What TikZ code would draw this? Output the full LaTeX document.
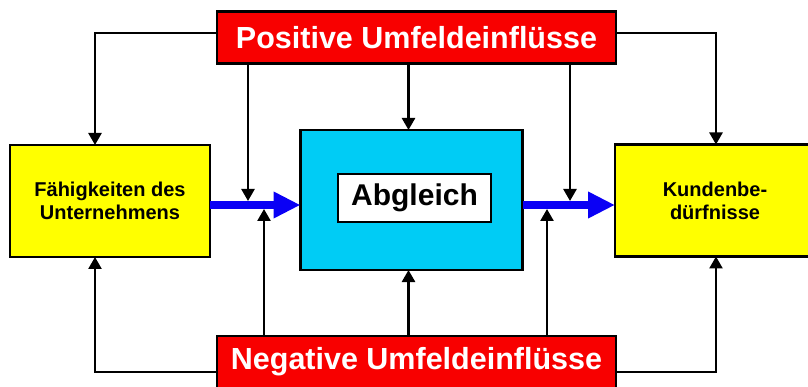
\documentclass[tikz,border=0pt]{standalone}
\usepackage{fontspec}
\setmainfont{Liberation Sans}
\usetikzlibrary{arrows.meta,calc}
\definecolor{boxred}{HTML}{F80000}
\definecolor{boxyellow}{HTML}{FFFF00}
\definecolor{boxcyan}{HTML}{00CCF5}
\definecolor{flowblue}{HTML}{0A00F5}
\tikzset{
  frame/.style={draw=black, line width=2.5pt, inner sep=0pt, outer sep=0pt},
  redbox/.style={frame, fill=boxred, text=white, font=\bfseries\fontsize{30.5}{36}\selectfont,
    minimum width=399pt, minimum height=52pt},
  sidebox/.style={frame, fill=boxyellow, align=center,
    font=\bfseries\fontsize{20}{23}\selectfont, minimum width=200pt, minimum height=112pt},
  corebox/.style={frame, fill=boxcyan, minimum width=222pt, minimum height=140pt},
  labelbox/.style={frame, fill=white, font=\bfseries\fontsize{30}{36}\selectfont,
    minimum width=153pt, minimum height=48pt},
  arr/.style={line width=2.5pt, -{Triangle[width=13pt,length=12pt]}},
  flow/.style={draw=flowblue, line width=8pt, -{Triangle[width=25pt,length=27pt]}},
}
\begin{document}
\begin{tikzpicture}[x=1pt,y=-1pt]
  \useasboundingbox (0,0) rectangle (808,387);
  \begin{scope}
  \clip (0,0) rectangle (808,387);

  % boxes
  \node[redbox] (pos) at (416.5,37.5) {Positive Umfeldeinflüsse};
  \node[redbox] (neg) at (416.5,362) {Negative Umfeldeinflüsse};
  \node[sidebox] (fah) at (110,201) {Fähigkeiten des\\Unternehmens};
  \node[sidebox] (kun) at (715,200.5) {Kundenbe-\\dürfnisse};
  \node[corebox] (abg) at (411.5,200) {};
  \node[labelbox] (lab) at (414.5,198) {Abgleich};

  % main flow
  \draw[flow] (fah.east |- 0,205) -- (abg.west |- 0,205);
  \draw[flow] (abg.east |- 0,205) -- (kun.west |- 0,205);

  % points on the flow arrows where influences meet
  \coordinate (p1) at (248,201);
  \coordinate (p2) at (570,201);
  \coordinate (n1) at (264,209);
  \coordinate (n2) at (547,209);

  % positive influences
  \draw[arr] ([yshift=4.5pt]pos.west) -| ([xshift=-15pt]fah.north);
  \draw[arr] ([yshift=4.5pt]pos.east) -| ([xshift=1pt]kun.north);
  \draw[arr] (pos.south -| p1) -- (p1);
  \draw[arr] (pos.south -| p2) -- (p2);
  \draw[arr] ([xshift=-3pt]pos.south -| abg.north) -- ([xshift=-3pt]abg.north);

  % negative influences
  \draw[arr] ([yshift=-10pt]neg.west) -| ([xshift=-15pt]fah.south);
  \draw[arr] ([yshift=-10pt]neg.east) -| ([xshift=1pt]kun.south);
  \draw[arr] (neg.north -| n1) -- (n1);
  \draw[arr] (neg.north -| n2) -- (n2);
  \draw[arr] ([xshift=-3pt]neg.north -| abg.south) -- ([xshift=-3pt]abg.south);
  \end{scope}
\end{tikzpicture}
\end{document}
